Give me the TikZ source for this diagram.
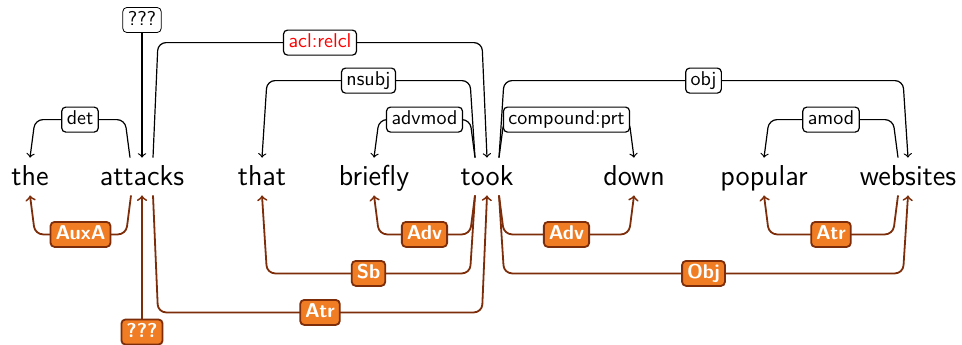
\documentclass[tikz,border=0pt]{standalone}
\usetikzlibrary{calc,arrows}
\usepackage{xcolor}
\definecolor{arcbrown}{RGB}{125,45,10}
\definecolor{lblorange}{RGB}{240,125,35}

\tikzset{
    word/.style={font=\sffamily\Large, anchor=base, text height=10pt, text depth=1.5pt, inner ysep=3.5pt, inner xsep=0pt},
    uparc/.style={draw=black, line width=0.6pt, rounded corners=4pt},
    dnarc/.style={draw=arcbrown, line width=0.9pt, rounded corners=4pt},
    uplbl/.style={draw=black, fill=white, rounded corners=2pt, font=\sffamily, text=black, inner xsep=2.5pt, inner ysep=1.75pt, text height=7pt, text depth=2pt},
    dnlbl/.style={draw=arcbrown, fill=lblorange, line width=0.9pt, rounded corners=2pt, font=\sffamily\bfseries, text=white, inner xsep=2.5pt, inner ysep=1.75pt, text height=7pt, text depth=2pt}
}

\begin{document}
\begin{tikzpicture}[x=0.5pt, y=-0.5pt]
        \useasboundingbox (0,0) rectangle (962,344);
        % words
        \node[word] (the) at (30,185) {the};
        \node[word] (attacks) at (142,185) {attacks};
        \node[word] (that) at (262,185) {that};
        \node[word] (briefly) at (374,185) {briefly};
        \node[word] (took) at (487,185) {took};
        \node[word] (down) at (634,185) {down};
        \node[word] (popular) at (764,185) {popular};
        \node[word] (websites) at (908,185) {websites};

        % upper arcs (UD)
        \node[uplbl] (rootup) at (142,20) {???};
        \draw[uparc,->] (rootup) -- (attacks.north);
        \draw[uparc,->] ($(attacks.north)+(-12,0)$) -- ++(-5,-38) -- node[uplbl]{det} ($(the.north)+(5,-38)$) -- (the.north);
        \draw[uparc,->] ($(attacks.north)+(11,0)$) -- ++(5,-115) -- node[uplbl,text=red]{acl:relcl} ($(took.north)+(-5,-115)$) -- (took.north);
        \draw[uparc,->] ($(took.north)+(-12,0)$) -- ++(-5,-77) -- node[uplbl]{nsubj} ($(that.north)+(5,-77)$) -- (that.north);
        \draw[uparc,->] ($(took.north)+(-12,0)$) -- ++(-5,-38) -- node[uplbl]{advmod} ($(briefly.north)+(5,-38)$) -- (briefly.north);
        \draw[uparc,->] ($(took.north)+(12,0)$) -- ++(5,-77) -- node[uplbl]{obj} ($(websites.north)+(-5,-77)$) -- (websites.north);
        \draw[uparc,->] ($(took.north)+(12,0)$) -- ++(5,-38) -- node[uplbl]{compound:prt} ($(down.north)+(-5,-38)$) -- (down.north);
        \draw[uparc,->] ($(websites.north)+(-10,0)$) -- ++(-5,-38) -- node[uplbl]{amod} ($(popular.north)+(5,-38)$) -- (popular.north);

        % lower arcs (PDT)
        \node[dnlbl] (rootdn) at (142,332) {???};
        \draw[dnarc,->] (rootdn) -- (attacks.south);
        \draw[dnarc,->] ($(attacks.south)+(-11,0)$) -- ++(-5,39) -- node[dnlbl]{AuxA} ($(the.south)+(5,39)$) -- (the.south);
        \draw[dnarc,->] ($(attacks.south)+(11,0)$) -- ++(5,117) -- node[dnlbl]{Atr} ($(took.south)+(-5,117)$) -- (took.south);
        \draw[dnarc,->] ($(took.south)+(-12,0)$) -- ++(-5,78) -- node[dnlbl]{Sb} ($(that.south)+(5,78)$) -- (that.south);
        \draw[dnarc,->] ($(took.south)+(-12,0)$) -- ++(-5,39) -- node[dnlbl]{Adv} ($(briefly.south)+(5,39)$) -- (briefly.south);
        \draw[dnarc,->] ($(took.south)+(12,0)$) -- ++(5,39) -- node[dnlbl]{Adv} ($(down.south)+(-5,39)$) -- (down.south);
        \draw[dnarc,->] ($(took.south)+(12,0)$) -- ++(5,78) -- node[dnlbl]{Obj} ($(websites.south)+(-5,78)$) -- (websites.south);
        \draw[dnarc,->] ($(websites.south)+(-10,0)$) -- ++(-5,39) -- node[dnlbl]{Atr} ($(popular.south)+(5,39)$) -- (popular.south);
    \end{tikzpicture}
\end{document}
